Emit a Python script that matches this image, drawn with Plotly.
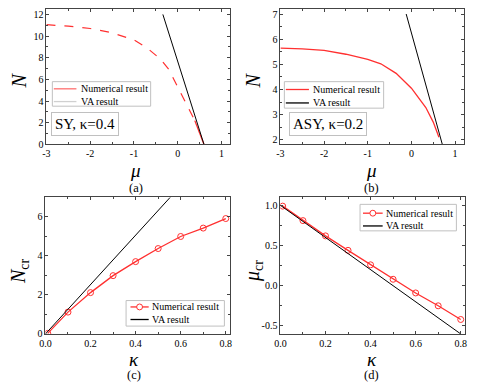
import plotly.graph_objects as go

# (a) SY, kappa=0.4
a_mu_unstable = [-3, -2.5, -2, -1.5, -1, -0.7, -0.4, -0.2, 0, 0.2, 0.39]
a_N_unstable = [11.05, 10.92, 10.7, 10.3, 9.65, 8.9, 7.9, 6.9, 5.3, 3.7, 2.2]
a_mu_stable = [0.39, 0.5, 0.6]
a_N_stable = [2.2, 1.1, 0.0]
a_mu_va = [-0.34, 0.6]
a_N_va = [12.0, 0.0]

# (b) ASY, kappa=0.2
b_mu = [-3, -2.5, -2, -1.5, -1, -0.7, -0.35, 0, 0.33, 0.5, 0.63]
b_N = [5.64, 5.61, 5.55, 5.4, 5.2, 5.02, 4.64, 4.05, 3.28, 2.7, 2.1]
b_mu_va = [-0.12, 0.71]
b_N_va = [7.0, 1.8]

# (c), (d) critical values vs kappa
kappa = [0.01, 0.1, 0.2, 0.3, 0.4, 0.5, 0.6, 0.7, 0.8]
N_cr = [0.03, 1.12, 2.12, 2.99, 3.71, 4.38, 5.0, 5.43, 5.92]
mu_cr = [0.99, 0.81, 0.62, 0.44, 0.26, 0.08, -0.09, -0.25, -0.42]
kappa_va = [0.0, 0.8]
N_cr_va = [0.0, 10.13]
mu_cr_va = [1.0, -0.6]

mu_ticks = [-3, -2, -1, 0, 1]
mu_ticktext = ["-3", "-2", "-1", "0", "1"]
kappa_ticks = [0, 0.2, 0.4, 0.6, 0.8]
kappa_ticktext = ["0.0", "0.2", "0.4", "0.6", "0.8"]
a_N_ticks = [0, 2, 4, 6, 8, 10, 12]
b_N_ticks = [2, 3, 4, 5, 6, 7]
c_N_ticks = [0, 2, 4, 6]
d_mu_ticks = [-0.5, 0, 0.5, 1.0]
d_mu_ticktext = ["-0.5", "0.0", "0.5", "1.0"]

legend_names = ["Numerical result", "VA result"]

RED = "#ff3030"
FONT = "Liberation Serif"

# the page body adds an 8px margin, so the figure is a bit smaller than the window
W, H, OFF = 473, 382, 8


def fx(X):
    return (X - OFF) / W


def fy(Y):
    return min(1.0, 1 - (Y - OFF) / H)


fig = go.Figure()

fig.add_trace(go.Scatter(x=a_mu_unstable, y=a_N_unstable, mode="lines", xaxis="x", yaxis="y",
                         line=dict(color=RED, width=1.2, dash="dash")))
fig.add_trace(go.Scatter(x=a_mu_stable, y=a_N_stable, mode="lines", xaxis="x", yaxis="y",
                         line=dict(color=RED, width=1.3)))
fig.add_trace(go.Scatter(x=a_mu_va, y=a_N_va, mode="lines", xaxis="x", yaxis="y",
                         line=dict(color="black", width=1)))

fig.add_trace(go.Scatter(x=b_mu, y=b_N, mode="lines", xaxis="x2", yaxis="y2",
                         line=dict(color=RED, width=1.3)))
fig.add_trace(go.Scatter(x=b_mu_va, y=b_N_va, mode="lines", xaxis="x2", yaxis="y2",
                         line=dict(color="black", width=1)))

marker = dict(symbol="circle-open", size=6, color=RED, line=dict(width=1))
fig.add_trace(go.Scatter(x=kappa, y=N_cr, mode="lines+markers", xaxis="x3", yaxis="y3",
                         line=dict(color=RED, width=1.3), marker=marker))
fig.add_trace(go.Scatter(x=kappa_va, y=N_cr_va, mode="lines", xaxis="x3", yaxis="y3",
                         line=dict(color="black", width=1)))

fig.add_trace(go.Scatter(x=kappa, y=mu_cr, mode="lines+markers", xaxis="x4", yaxis="y4",
                         line=dict(color=RED, width=1.3), marker=marker))
fig.add_trace(go.Scatter(x=kappa_va, y=mu_cr_va, mode="lines", xaxis="x4", yaxis="y4",
                         line=dict(color="black", width=1)))


def ax(x0, x1, rng, tickvals, ticktext, minor_dtick, anchor, vertical=False):
    dom = [fy(x1), fy(x0)] if vertical else [fx(x0), fx(x1)]
    return dict(domain=dom, range=rng, tickvals=tickvals, ticktext=ticktext,
                ticks="inside", ticklen=3, tickcolor="#444", showline=True, linecolor="#444",
                linewidth=1, mirror="allticks", showgrid=False, zeroline=False, anchor=anchor,
                minor=dict(ticks="inside", ticklen=2, dtick=minor_dtick, tickcolor="#444"),
                tickfont=dict(family=FONT, size=10, color="black"))


fig.update_layout(
    width=W, height=H, margin=dict(l=0, r=0, t=0, b=0), showlegend=False,
    paper_bgcolor="white", plot_bgcolor="white",
    xaxis=ax(41, 228, [-3, 1.2], mu_ticks, mu_ticktext, 0.5, "y"),
    yaxis=ax(5, 146, [0, 12.5], a_N_ticks, [str(v) for v in a_N_ticks], 1, "x", True),
    xaxis2=ax(279, 466, [-3, 1.21], mu_ticks, mu_ticktext, 0.5, "y2"),
    yaxis2=ax(7, 146, [1.81, 7.2], b_N_ticks, [str(v) for v in b_N_ticks], 0.5, "x2", True),
    xaxis3=ax(40, 228, [0, 0.82], kappa_ticks, kappa_ticktext, 0.1, "y3"),
    yaxis3=ax(200, 339, [0, 7], c_N_ticks, [str(v) for v in c_N_ticks], 1, "x3", True),
    xaxis4=ax(279, 467, [0, 0.82], kappa_ticks, kappa_ticktext, 0.1, "y4"),
    yaxis4=ax(199, 339, [-0.6, 1.11], d_mu_ticks, d_mu_ticktext, 0.25, "x4", True),
)


def add_legend(box, rows, line_x, text_x, colors, with_marker):
    x0, y0, x1, y1 = box
    fig.add_shape(type="rect", xref="paper", yref="paper", layer="above",
                  x0=fx(x0), x1=fx(x1), y0=fy(y1), y1=fy(y0),
                  line=dict(color="#c0c0c0", width=1), fillcolor="white")
    for name, ry, col, mk in zip(legend_names, rows, colors, with_marker):
        fig.add_shape(type="line", xref="paper", yref="paper", layer="above",
                      x0=fx(line_x[0]), x1=fx(line_x[1]), y0=fy(ry), y1=fy(ry),
                      line=dict(color=col, width=1.3))
        if mk:
            cx = (line_x[0] + line_x[1]) / 2
            fig.add_shape(type="circle", xref="paper", yref="paper", layer="above",
                          x0=fx(cx - 3), x1=fx(cx + 3), y0=fy(ry + 3), y1=fy(ry - 3),
                          line=dict(color=RED, width=1), fillcolor="white")
        fig.add_annotation(text=name, x=fx(text_x), y=fy(ry), xref="paper", yref="paper",
                           showarrow=False, xanchor="left", yanchor="middle",
                           font=dict(family=FONT, size=10, color="black"))


add_legend((47, 82, 147, 107), (89.3, 102.3), (48.5, 71.5), 74.5,
           ["#ff7070", "#d0d0d0"], [False, False])
add_legend((283, 82, 384, 109), (90, 103.7), (284.5, 308), 310,
           [RED, "black"], [False, False])
add_legend((122, 305, 222, 331), (311.5, 324.3), (126.5, 145), 146.5,
           [RED, "black"], [True, False])
add_legend((360, 207, 458, 234), (216, 229), (363, 383), 384.5,
           [RED, "black"], [True, False])

labels = [
    # (text, x px, y px, size, angle)
    ("<i>μ</i>", 132, 173, 19, 0), ("(a)", 132, 190, 12.5, 0),
    ("<i>N</i>", 13, 81, 20, -90),
    ("<i>μ</i>", 372, 173, 19, 0), ("(b)", 372, 190, 12.5, 0),
    ("<i>N</i>", 251, 81, 20, -90),
    ("<i>κ</i>", 130, 365, 19, 0), ("(c)", 130, 381, 12.5, 0),
    ("<i>N</i><sub>cr</sub>", 13, 275, 20, -90),
    ("<i>κ</i>", 372, 365, 19, 0), ("(d)", 372, 381, 12.5, 0),
    ("<i>μ</i><sub>cr</sub>", 251, 275, 20, -90),
]
for text, px, py, size, angle in labels:
    fig.add_annotation(text=text, x=fx(px), y=fy(py), xref="paper", yref="paper",
                       showarrow=False, textangle=angle, xanchor="center", yanchor="middle",
                       font=dict(family=FONT, size=size, color="black"))

for text, px, py in [("SY, κ=0.4", 80, 125), ("ASY, κ=0.2", 327, 125)]:
    fig.add_annotation(text=text, x=fx(px), y=fy(py), xref="paper", yref="paper",
                       showarrow=False, xanchor="center", yanchor="middle",
                       bordercolor="#c0c0c0", borderwidth=1, borderpad=3, bgcolor="white",
                       font=dict(family=FONT, size=15, color="black"))

fig.write_html("out.html")
